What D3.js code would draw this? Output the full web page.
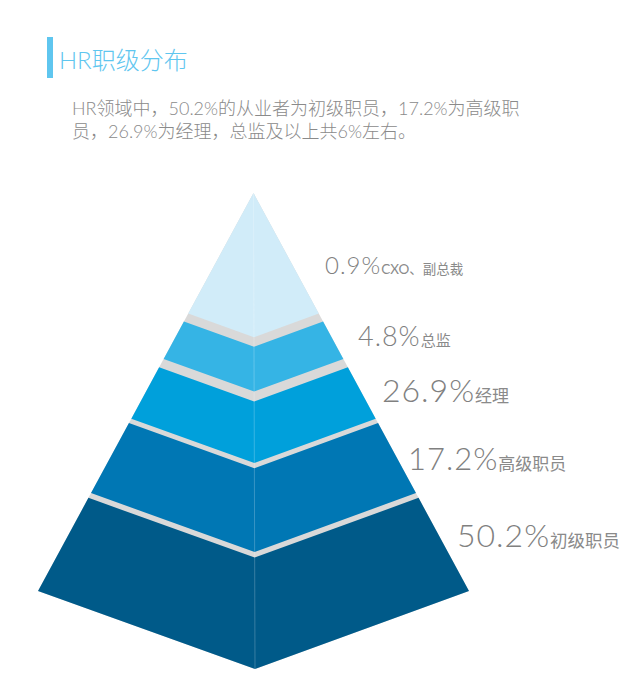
<!DOCTYPE html>
<html>
<head>
<meta charset="utf-8">
<script src="https://cdn.jsdelivr.net/npm/d3@7"></script>
<style>
  body { margin: 0; background: #fff; }
  svg text { font-family: Lato, "Noto Sans CJK SC", sans-serif; }
</style>
</head>
<body>
<div id="chart"></div>
<script>
// data: levels from top of the pyramid to the bottom
var levels = ["CXO、副总裁", "总监", "经理", "高级职员", "初级职员"];
var shares = [0.9, 4.8, 26.9, 17.2, 50.2];
var title = "HR职级分布";
var subtitleLines = ["HR领域中，50.2%的从业者为初级职员，17.2%为高级职", "员，26.9%为经理，总监及以上共6%左右。"];

// layout: band of each level along the pyramid (0 = apex, 1 = base)
var bandEdges = [[0, 0.303], [0.323, 0.417], [0.438, 0.567], [0.578, 0.754], [0.766, 1]];
var colors = ["#d1ecf9", "#35b4e5", "#00a0db", "#0077b4", "#005a89"];
var labelPos = [[325, 274], [358, 346], [382, 402], [408, 470], [457, 547]];
var bigSize = [24, 27, 32, 31, 32],
    smallSize = [13.5, 15, 17, 17, 17.5];

var width = 634, height = 698;

var svg = d3.select("#chart")
  .append("svg")
  .attr("width", width)
  .attr("height", height);

// title with the blue marker
svg.append("rect")
  .attr("x", 47).attr("y", 37)
  .attr("width", 6).attr("height", 41)
  .attr("fill", "#5fc6ef");

svg.append("text")
  .attr("x", 59).attr("y", 69)
  .attr("font-size", 24)
  .attr("font-weight", 300)
  .attr("fill", "#5fc6ef")
  .text(title);

svg.selectAll(".sub")
  .data(subtitleLines)
  .enter().append("text")
  .attr("class", "sub")
  .attr("x", 72)
  .attr("y", function(d, i) { return 115 + i * 23; })
  .attr("font-size", 18)
  .attr("font-weight", 300)
  .attr("fill", "#8a8a8a")
  .text(function(d) { return d; });

// pyramid scales: t goes from apex (0) to base (1)
var centerY = d3.scaleLinear().domain([0, 1]).range([193, 669]),
    centerX = d3.scaleLinear().domain([0, 1]).range([253.5, 255]),
    edgeY = d3.scaleLinear().domain([0, 1]).range([193, 591]),
    halfW = d3.scaleLinear().domain([0, 1]).range([0, 215.5]);

function leftPt(t) { return [centerX(0) - halfW(t), edgeY(t)]; }
function rightPt(t) { return [centerX(0) + halfW(t), edgeY(t)]; }
function midPt(t) { return [centerX(t), centerY(t)]; }

var line = d3.line();

// grey silhouette shows through the gaps between levels
svg.append("path")
  .attr("d", line([midPt(0), leftPt(1), midPt(1), rightPt(1)]) + "Z")
  .attr("fill", "#d9d9d9");

var layer = svg.selectAll(".layer")
  .data(bandEdges)
  .enter().append("g")
  .attr("class", "layer");

layer.append("path")
  .attr("d", function(b) {
    var t0 = b[0], t1 = b[1];
    var pts = t0 === 0
      ? [midPt(0), rightPt(t1), midPt(t1), leftPt(t1)]
      : [leftPt(t0), midPt(t0), rightPt(t0), rightPt(t1), midPt(t1), leftPt(t1)];
    return line(pts) + "Z";
  })
  .attr("fill", function(d, i) { return colors[i]; });

// faint ridge line down the front
svg.append("path")
  .attr("d", line([midPt(0), midPt(1)]))
  .attr("stroke", "#ffffff")
  .attr("stroke-opacity", 0.22)
  .attr("stroke-width", 1)
  .attr("fill", "none");

// labels
var labels = svg.selectAll(".label")
  .data(levels)
  .enter().append("text")
  .attr("class", "label")
  .attr("x", function(d, i) { return labelPos[i][0]; })
  .attr("y", function(d, i) { return labelPos[i][1]; })
  .attr("fill", "#808080");

labels.append("tspan")
  .attr("font-size", function(d, i) { return bigSize[i]; })
  .attr("font-weight", 300)
  .attr("letter-spacing", 1)
  .text(function(d, i) { return shares[i] + "%"; });

labels.append("tspan")
  .attr("font-size", function(d, i) { return smallSize[i]; })
  .attr("fill", "#8a8a8a")
  .text(function(d) { return d; });
</script>
</body>
</html>
